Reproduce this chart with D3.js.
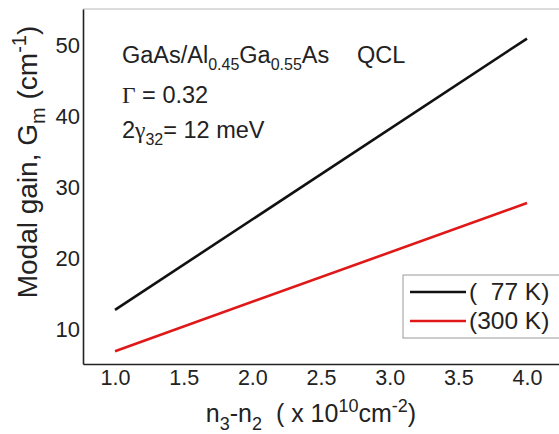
<!DOCTYPE html>
<html>
<head>
<meta charset="utf-8">
<script src="https://cdn.jsdelivr.net/npm/d3@7"></script>
<style>
  body { margin: 0; background: #fff; }
  text { font-family: "Liberation Sans", Arial, sans-serif; fill: #222; }
</style>
</head>
<body>
<div id="chart"></div>
<script>
// data
const density = [1.0, 4.0];          // n3-n2 (x 10^10 cm^-2)
const gain77 = [12.8, 50.9];         // 77 K
const gain300 = [7.0, 27.8];         // 300 K
const xTicks = [1.0, 1.5, 2.0, 2.5, 3.0, 3.5, 4.0];
const yTicks = [10, 20, 30, 40, 50];
const legendLabels = ["(  77 K)", "(300 K)"];

const W = 559, H = 434;
const margin = { left: 83, right: 0, top: 9, bottom: 70 };

const svg = d3.select("#chart")
  .append("svg")
  .attr("width", W)
  .attr("height", H);

// Scales
const x = d3.scaleLinear()
  .domain([0.767, 4.233])
  .range([margin.left, W - margin.right]);

const y = d3.scaleLinear()
  .domain([5.2, 55.05])
  .range([H - margin.bottom, margin.top]);

// frame: light top, dark left/bottom
svg.append("line")
  .attr("x1", margin.left).attr("x2", W)
  .attr("y1", margin.top).attr("y2", margin.top)
  .attr("stroke", "#d0d0d0").attr("stroke-width", 1.5);

// Axes
const xAxis = d3.axisBottom(x).tickValues(xTicks).tickFormat(d3.format(".1f")).tickSize(0).tickPadding(6);
const yAxis = d3.axisLeft(y).tickValues(yTicks).tickSize(0).tickPadding(3);

const gx = svg.append("g")
  .attr("transform", `translate(0, ${H - margin.bottom})`)
  .call(xAxis);
gx.select(".domain").attr("stroke", "#222").attr("stroke-width", 1.6);
gx.selectAll("text").attr("font-size", 21.5).attr("fill", "#222")
  .attr("font-family", "Liberation Sans, Arial, sans-serif");

const gy = svg.append("g")
  .attr("transform", `translate(${margin.left}, 0)`)
  .call(yAxis);
gy.select(".domain").attr("stroke", "#222").attr("stroke-width", 1.6);
gy.selectAll("text").attr("font-size", 22).attr("fill", "#222")
  .attr("font-family", "Liberation Sans, Arial, sans-serif");

// Lines
const line = d3.line()
  .x(d => x(d[0]))
  .y(d => y(d[1]));

const series = [
  { vals: gain77, color: "#111" },
  { vals: gain300, color: "#e01818" }
];

series.forEach(s => {
  svg.append("path")
    .datum(density.map((d, i) => [d, s.vals[i]]))
    .attr("d", line)
    .attr("fill", "none")
    .attr("stroke", s.color)
    .attr("stroke-width", 2.6);
});

// Legend
const lg = svg.append("g");
lg.append("rect")
  .attr("x", 403).attr("y", 275)
  .attr("width", 170).attr("height", 63)
  .attr("fill", "#fff").attr("stroke", "#999").attr("stroke-width", 1);

series.forEach((s, i) => {
  const yy = 292 + i * 29;
  lg.append("line")
    .attr("x1", 410).attr("x2", 466)
    .attr("y1", yy).attr("y2", yy)
    .attr("stroke", s.color).attr("stroke-width", 2.6);
  lg.append("text")
    .attr("x", 469).attr("y", yy + 8)
    .attr("font-size", 24.5)
    .style("white-space", "pre")
    .text(legendLabels[i]);
});

// Annotation
const note = svg.append("g").attr("font-size", 23.5);
const t1 = note.append("text").attr("x", 122).attr("y", 63);
t1.append("tspan").text("GaAs/Al");
t1.append("tspan").attr("font-size", 16).attr("dy", 7).text("0.45");
t1.append("tspan").attr("dy", -7).text("Ga");
t1.append("tspan").attr("font-size", 16).attr("dy", 7).text("0.55");
t1.append("tspan").attr("dy", -7).text("As");
note.append("text").attr("x", 357).attr("y", 63).text("QCL");

const t2 = note.append("text").attr("x", 122).attr("y", 103);
t2.append("tspan").attr("font-family", "Liberation Serif, serif").text("Γ");
t2.append("tspan").text(" = 0.32");

const t3 = note.append("text").attr("x", 122).attr("y", 138);
t3.append("tspan").text("2");
t3.append("tspan").attr("font-family", "Liberation Serif, serif").text("γ");
t3.append("tspan").attr("font-size", 16).attr("dy", 7).text("32");
t3.append("tspan").attr("dy", -7).text("= 12 meV");

// Axis titles
const xt = svg.append("text")
  .attr("x", 311).attr("y", 422)
  .attr("text-anchor", "middle")
  .attr("font-size", 25)
  .style("white-space", "pre");
xt.append("tspan").text("n");
xt.append("tspan").attr("font-size", 18).attr("dy", 8).text("3");
xt.append("tspan").attr("dy", -8).text("-n");
xt.append("tspan").attr("font-size", 18).attr("dy", 8).text("2");
xt.append("tspan").attr("dy", -8).text("  ( x 10");
xt.append("tspan").attr("font-size", 18).attr("dy", -10).text("10");
xt.append("tspan").attr("dy", 10).text("cm");
xt.append("tspan").attr("font-size", 18).attr("dy", -10).text("-2");
xt.append("tspan").attr("dy", 10).text(")");

const yt = svg.append("text")
  .attr("transform", "translate(37, 162) rotate(-90)")
  .attr("text-anchor", "middle")
  .attr("font-size", 28)
  .style("white-space", "pre");
yt.append("tspan").text("Modal gain, G");
yt.append("tspan").attr("font-size", 20).attr("dy", 8).text("m");
yt.append("tspan").attr("dy", -8).text(" (cm");
yt.append("tspan").attr("font-size", 20).attr("dy", -11).text("-1");
yt.append("tspan").attr("dy", 11).text(")");
</script>
</body>
</html>
